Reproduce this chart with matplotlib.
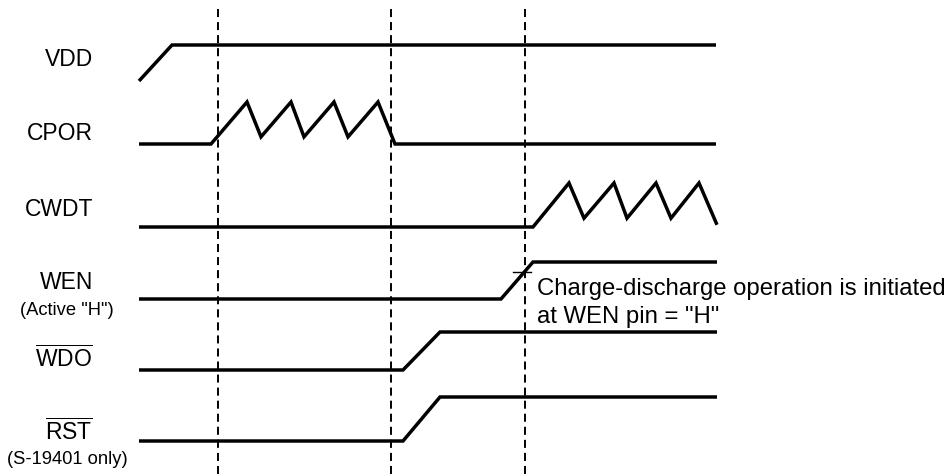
import matplotlib
matplotlib.use("Agg")
from matplotlib import pyplot as plt

plt.rcParams['font.family'] = ['Liberation Sans', 'DejaVu Sans']
plt.rcParams['mathtext.fontset'] = 'custom'
plt.rcParams['mathtext.rm'] = 'Liberation Sans'
plt.rcParams['lines.scale_dashes'] = False

# signal names and sub-notes
names = ["VDD", "CPOR", "CWDT", "WEN", r"$\overline{\mathrm{WDO}}$", r"$\overline{\mathrm{RST}}$"]
notes = ["", "", "", '(Active "H")', "", "(S-19401 only)"]

# time points of each waveform (same horizontal scale as the chart)
t_vdd = [139, 172, 716]
t_cpor = [139, 211, 247, 261, 291, 304, 334, 348, 378, 395, 716]
t_cwdt = [139, 533, 569, 584, 614, 627, 656, 671, 699, 717]
t_wen = [139, 501, 533, 717]
t_wdo = [139, 403, 440, 717]
t_rst = [139, 403, 440, 717]

# levels: 0 = low, 1 = high
v_vdd = [0, 1, 1]
v_cpor = [0, 0, 1, 0.17, 1, 0.17, 1, 0.17, 1, 0, 0]
v_cwdt = [0, 0, 1, 0.2, 1, 0.2, 1, 0.2, 1, 0.05]
v_wen = [0, 0, 1, 1]
v_wdo = [0, 0, 1, 1]
v_rst = [0, 0, 1, 1]

# timing markers (dashed)
marks = [218, 391, 525]

note_lines = ['Charge-discharge operation is initiated', 'at WEN pin = "H"']

# row layout: low and high level position of each row
row_low = [82, 145, 228, 300, 371, 442]
row_high = [46, 103, 184, 263, 333, 398]
label_y = [59, 134, 210, 283, 359, 432]

times = [t_vdd, t_cpor, t_cwdt, t_wen, t_wdo, t_rst]
levels = [v_vdd, v_cpor, v_cwdt, v_wen, v_wdo, v_rst]

fig = plt.figure(figsize=(9.49, 4.77), dpi=100)
ax = fig.add_axes([0, 0, 1, 1])
ax.set_xlim(0, 949)
ax.set_ylim(477, 0)
ax.axis("off")

for m in marks:
    ax.plot([m, m], [10, 477], color="black", lw=1.4, linestyle=(0, (5.8, 3.6)))

for i in range(len(names)):
    lo, hi = row_low[i], row_high[i]
    ys = [lo + v * (hi - lo) for v in levels[i]]
    ax.plot(times[i], ys, color="black", lw=2.5, solid_joinstyle="miter", solid_capstyle="butt")
    ax.text(93, label_y[i], names[i], ha="right", va="center", fontsize=16.5)
    if notes[i]:
        ax.text(67, label_y[i] + 28, notes[i], ha="center", va="center", fontsize=13.2)

# small tick at the WEN rising edge
ax.plot([513, 531], [273, 273], color="black", lw=1.0)
for k, line in enumerate(note_lines):
    ax.text(537, 295 + 28.5 * k, line, ha="left", va="baseline", fontsize=17.2)

fig.savefig("out.png", dpi=100)
